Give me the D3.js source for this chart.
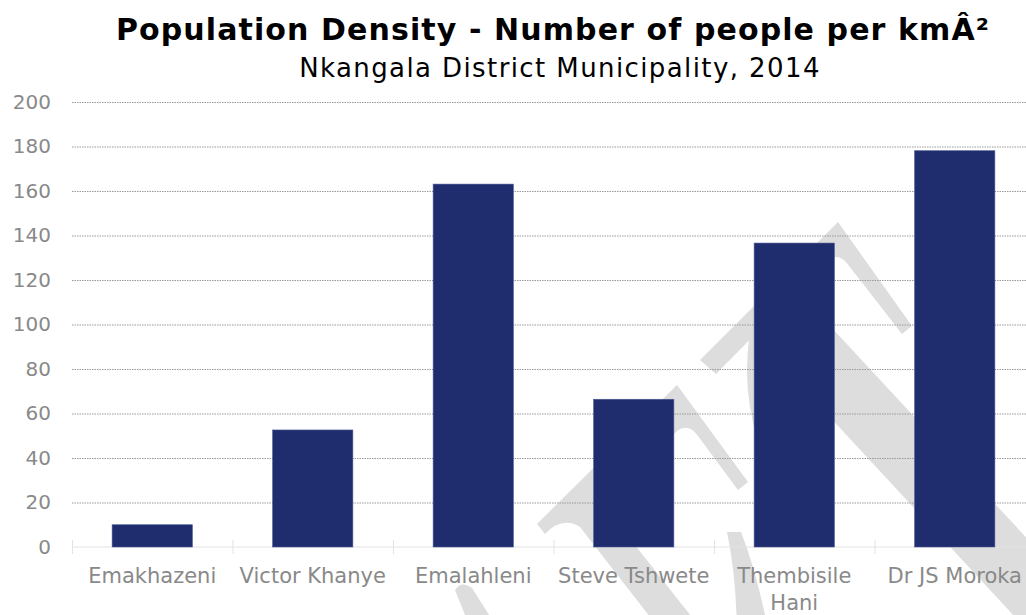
<!DOCTYPE html>
<html>
<head>
<meta charset="utf-8">
<script src="https://cdn.jsdelivr.net/npm/d3@7"></script>
<style>
  html, body { margin: 0; padding: 0; background: #fff; }
  svg { display: block; }
  text { font-family: "DejaVu Sans", Verdana, sans-serif; }
</style>
</head>
<body>
<svg id="chart" width="1026" height="615"></svg>
<script>
// Population density per local municipality, Nkangala District, 2014
const categories = ["Emakhazeni", "Victor Khanye", "Emalahleni", "Steve Tshwete", "Thembisile Hani", "Dr JS Moroka"];
const density = [10.0, 52.6, 163.1, 66.4, 136.6, 178.1];
const yTicks = [0, 20, 40, 60, 80, 100, 120, 140, 160, 180, 200];

const titleText = "Population Density - Number of people per kmÂ²";
const subtitleText = "Nkangala District Municipality, 2014";

const W = 1026, H = 615;
const plot = { left: 72, right: 1035, top: 102, bottom: 547 };

const svg = d3.select("#chart");

// faint background logo (decoration behind the plot)
const logoShapes = [
  "M537,524 L677,385 L748,482 L738,490 L698,436 Q688,422 676,432 L604,506 L710,640 L668,640 L580,527 Q562,516 545,534 Z",
  "M700,360 L838,222 L912,326 L902,334 L846,262 Q836,252 826,262 L716,374 Z",
  "M758,298 Q736,370 758,442 L790,442 L790,298 Z",
  "M806,300 L1151,672 L1066,672 L814,400 Z",
  "M727,532 L741,532 Q758,575 770,640 L737,640 Q737,580 727,532 Z",
  "M455,590 Q461,580 472,588 L505,640 L475,640 Z"
];
svg.append("g").attr("class", "logo")
  .selectAll("path").data(logoShapes).join("path")
  .attr("d", d => d)
  .attr("fill", "#dddddd");

const x = d3.scaleBand()
  .domain(categories)
  .range([plot.left, plot.right])
  .paddingInner(0.5)
  .paddingOuter(0.25);

const y = d3.scaleLinear()
  .domain([0, 200])
  .range([plot.bottom, plot.top]);

// dotted horizontal gridlines
const grid = svg.append("g")
  .attr("transform", `translate(${plot.left},0)`)
  .call(d3.axisLeft(y).tickValues(yTicks.filter(v => v > 0))
    .tickSize(-(plot.right - plot.left)).tickFormat(""));
grid.select(".domain").remove();
grid.selectAll("line")
  .attr("stroke", "#9a9a9a")
  .attr("stroke-width", 1)
  .attr("stroke-dasharray", "1.5,1");

// y axis labels
const yAxis = svg.append("g")
  .attr("transform", `translate(51,0)`)
  .call(d3.axisLeft(y).tickValues(yTicks).tickSize(0).tickPadding(0));
yAxis.select(".domain").remove();
yAxis.selectAll("text")
  .attr("fill", "#898989")
  .style("font-size", "20px")
  .style("font-family", "'DejaVu Sans', Verdana, sans-serif");

// x axis baseline and category dividers
const xBase = svg.append("g");
xBase.append("line")
  .attr("x1", plot.left).attr("x2", plot.right)
  .attr("y1", y(0)).attr("y2", y(0))
  .attr("stroke", "#e3e3e3").attr("stroke-width", 1);
xBase.selectAll("line.div")
  .data(d3.range(categories.length + 1))
  .join("line")
  .attr("class", "div")
  .attr("x1", i => plot.left + i * x.step() + 0.5)
  .attr("x2", i => plot.left + i * x.step() + 0.5)
  .attr("y1", y(0) - 7).attr("y2", y(0) + 7)
  .attr("stroke", "#e3e3e3").attr("stroke-width", 1);

// bars
svg.append("g")
  .selectAll("rect")
  .data(categories.map((c, i) => ({ c, v: density[i] })))
  .join("rect")
  .attr("x", d => x(d.c))
  .attr("width", x.bandwidth())
  .attr("y", d => y(d.v))
  .attr("height", d => y(0) - y(d.v))
  .attr("fill", "#1f2d6e")
  .attr("stroke", "#4a5790")
  .attr("stroke-width", 0.6);

// x axis labels, wrapped to the category width
const xAxis = svg.append("g")
  .attr("transform", `translate(0,${y(0)})`)
  .call(d3.axisBottom(x).tickSize(0).tickPadding(0));
xAxis.select(".domain").remove();
xAxis.selectAll("text")
  .attr("fill", "#898989")
  .attr("dy", null)
  .attr("y", 36)
  .style("font-size", "21px")
  .style("font-family", "'DejaVu Sans', Verdana, sans-serif")
  .each(function () {
    const t = d3.select(this);
    const words = t.text().split(" ");
    const maxW = x.step() - 6;
    t.text(null);
    let line = [];
    let ts = t.append("tspan").attr("x", 0).attr("y", 36);
    let lineNo = 0;
    words.forEach(w => {
      line.push(w);
      ts.text(line.join(" "));
      if (ts.node().getComputedTextLength() > maxW && line.length > 1) {
        line.pop();
        ts.text(line.join(" "));
        line = [w];
        lineNo++;
        ts = t.append("tspan").attr("x", 0).attr("y", 36 + lineNo * 27).text(w);
      }
    });
  });

// titles
svg.append("text")
  .attr("x", 553).attr("y", 40)
  .attr("text-anchor", "middle")
  .attr("fill", "#000")
  .style("font-size", "30px")
  .style("letter-spacing", "1.1px")
  .style("font-weight", "bold")
  .text(titleText);

svg.append("text")
  .attr("x", 560).attr("y", 77)
  .attr("text-anchor", "middle")
  .attr("fill", "#000")
  .style("font-size", "26px")
  .style("letter-spacing", "1.4px")
  .text(subtitleText);
</script>
</body>
</html>
